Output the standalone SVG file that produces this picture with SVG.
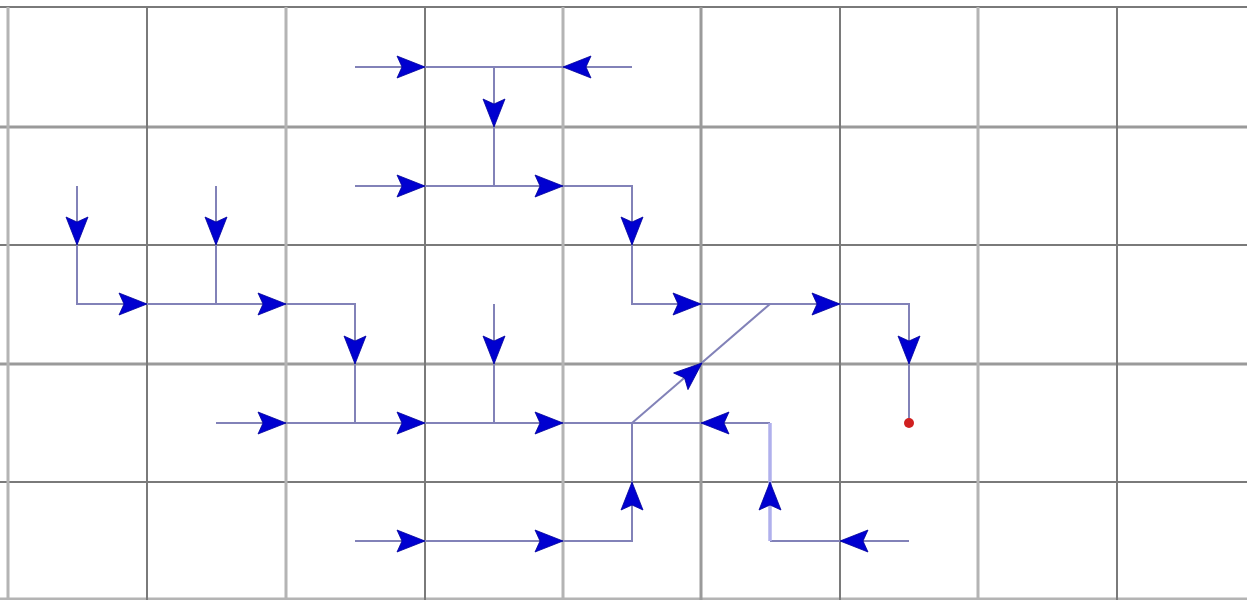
<svg xmlns="http://www.w3.org/2000/svg" xmlns:xlink="http://www.w3.org/1999/xlink" width="1247" height="600" viewBox="0 0 1247 600">
<style>
.gd{stroke:#7a7a7a;stroke-width:2;fill:none}
.gl{stroke:#b4b4b4;stroke-width:3;fill:none}
.gm{stroke:#9a9a9a;stroke-width:3;fill:none}
.c{stroke:#8282b8;stroke-width:2;fill:none}
.cw{stroke:#b0b0ec;stroke-width:3.5;fill:none}
.ah{fill:#0000d0;stroke:#00009a;stroke-width:0.8}
</style>
<defs>
<path id="ah" d="M0,0 L-28,-11 L-23,0 L-28,11 Z"/>
</defs>
<rect width="1247" height="600" fill="#ffffff"/>
<g id="grid">
<line class="gd" x1="0" y1="7" x2="1247" y2="7"/>
<line class="gm" x1="0" y1="127" x2="1247" y2="127"/>
<line class="gd" x1="0" y1="245" x2="1247" y2="245"/>
<line class="gm" x1="0" y1="364" x2="1247" y2="364"/>
<line class="gd" x1="0" y1="482" x2="1247" y2="482"/>
<line class="gl" x1="0" y1="599" x2="1247" y2="599"/>
<line class="gl" x1="8" y1="7" x2="8" y2="600"/>
<line class="gd" x1="147" y1="7" x2="147" y2="600"/>
<line class="gl" x1="286" y1="7" x2="286" y2="600"/>
<line class="gd" x1="425" y1="7" x2="425" y2="600"/>
<line class="gl" x1="563" y1="7" x2="563" y2="600"/>
<line class="gm" x1="701" y1="7" x2="701" y2="600"/>
<line class="gd" x1="840" y1="7" x2="840" y2="600"/>
<line class="gl" x1="978" y1="7" x2="978" y2="600"/>
<line class="gd" x1="1117" y1="7" x2="1117" y2="600"/>
</g>
<g id="connectors">
<polyline class="c" points="355,67 632,67"/>
<polyline class="c" points="494,67 494,186"/>
<polyline class="c" points="355,186 632,186 632,304 909,304 909,423"/>
<polyline class="c" points="77,186 77,304 355,304 355,423"/>
<polyline class="c" points="216,186 216,304"/>
<polyline class="c" points="216,423 770,423"/>
<polyline class="c" points="494,304 494,423"/>
<polyline class="c" points="632,423 770,304"/>
<polyline class="c" points="355,541 632,541 632,423"/>
<polyline class="c" points="909,541 770,541"/>
<polyline class="cw" points="770,541 770,423"/>
<g class="ah">
<use xlink:href="#ah" transform="translate(425,67)"/>
<use xlink:href="#ah" transform="translate(563,67) rotate(180)"/>
<use xlink:href="#ah" transform="translate(494,127) rotate(90)"/>
<use xlink:href="#ah" transform="translate(425,186)"/>
<use xlink:href="#ah" transform="translate(563,186)"/>
<use xlink:href="#ah" transform="translate(632,245) rotate(90)"/>
<use xlink:href="#ah" transform="translate(701,304)"/>
<use xlink:href="#ah" transform="translate(840,304)"/>
<use xlink:href="#ah" transform="translate(909,364) rotate(90)"/>
<use xlink:href="#ah" transform="translate(77,245) rotate(90)"/>
<use xlink:href="#ah" transform="translate(216,245) rotate(90)"/>
<use xlink:href="#ah" transform="translate(147,304)"/>
<use xlink:href="#ah" transform="translate(286,304)"/>
<use xlink:href="#ah" transform="translate(355,364) rotate(90)"/>
<use xlink:href="#ah" transform="translate(494,364) rotate(90)"/>
<use xlink:href="#ah" transform="translate(286,423)"/>
<use xlink:href="#ah" transform="translate(425,423)"/>
<use xlink:href="#ah" transform="translate(563,423)"/>
<use xlink:href="#ah" transform="translate(702,363) rotate(-40.8)"/>
<use xlink:href="#ah" transform="translate(701,423) rotate(180)"/>
<use xlink:href="#ah" transform="translate(770,482) rotate(-90)"/>
<use xlink:href="#ah" transform="translate(840,541) rotate(180)"/>
<use xlink:href="#ah" transform="translate(425,541)"/>
<use xlink:href="#ah" transform="translate(563,541)"/>
<use xlink:href="#ah" transform="translate(632,482) rotate(-90)"/>
</g>
</g>
<g id="end-node">
<circle cx="909" cy="423" r="5" fill="#d02020"/>
</g>
</svg>
